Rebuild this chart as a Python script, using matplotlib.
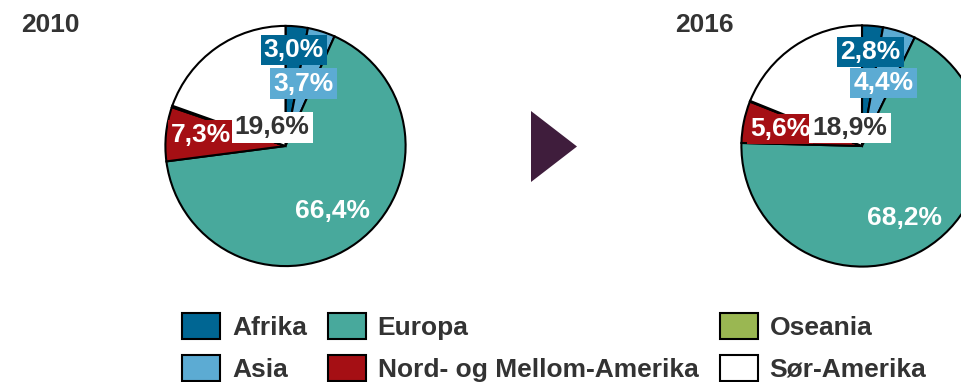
import matplotlib
matplotlib.use("Agg")
import matplotlib.pyplot as plt
from matplotlib.patches import Polygon

plt.rcParams["font.family"] = ["Liberation Sans", "DejaVu Sans"]
plt.rcParams["font.weight"] = "bold"

# Share of total by world region, 2010 vs 2016 (percent)
regions = ["Afrika", "Asia", "Europa", "Nord- og Mellom-Amerika", "Oseania", "Sør-Amerika"]
share_2010 = [3.0, 3.7, 66.4, 7.3, 0.2, 19.6]
share_2016 = [2.8, 4.4, 68.2, 5.6, 0.1, 18.9]
years = ["2010", "2016"]

colors = ["#006693", "#5cabd3", "#48a99c", "#a50f14", "#9ab752", "#ffffff"]
text_dark = "#333333"

# label offsets (pie radius units) and styling per region; Oseania is unlabeled
label_pos = {
    "2010": [(0.07, 0.80), (0.15, 0.52), (0.39, -0.54), (-0.70, 0.09), None, (-0.11, 0.155)],
    "2016": [(0.07, 0.78), (0.18, 0.52), (0.35, -0.60), (-0.68, 0.14), None, (-0.10, 0.15)],
}
label_box = [colors[0], colors[1], None, colors[3], None, "#ffffff"]
label_color = ["white", "white", "white", "white", None, text_dark]

W, H = 962, 382
fig = plt.figure(figsize=(W / 100, H / 100), dpi=100)

pies = [("2010", share_2010, (285.5, 146), 122.5, 21),
        ("2016", share_2016, (862, 146), 123, 675)]

wedges = None
for year, vals, (cx, cy), r, tx in pies:
    ax = fig.add_axes([(cx - r) / W, (H - cy - r) / H, 2 * r / W, 2 * r / H])
    w, _ = ax.pie(vals, colors=colors, startangle=90, counterclock=False, radius=1,
                  wedgeprops=dict(edgecolor="black", linewidth=1.5))
    if wedges is None:
        wedges = w
    ax.set_xlim(-1.02, 1.02)
    ax.set_ylim(-1.02, 1.02)
    ax.set_aspect("equal")
    ax.axis("off")
    for i, v in enumerate(vals):
        pos = label_pos[year][i]
        if pos is None:
            continue
        txt = f"{v:.1f}%".replace(".", ",")
        bbox = None
        if label_box[i] is not None:
            bbox = dict(boxstyle="square,pad=0.12", facecolor=label_box[i], edgecolor="none")
        ax.text(pos[0], pos[1], txt, ha="center", va="center", fontsize=19,
                fontweight="bold", color=label_color[i], bbox=bbox, zorder=5)
    fig.text(tx / W, 1 - 32 / H, year, ha="left", va="baseline", fontsize=19,
             fontweight="bold", color=text_dark)

# arrow between the two years
tri = [(531 / W, 1 - 111 / H), (577 / W, 1 - 146.5 / H), (531 / W, 1 - 182 / H)]
fig.patches.append(Polygon(tri, closed=True, transform=fig.transFigure,
                           facecolor="#3f1d3c", edgecolor="none"))

leg = fig.legend(wedges, regions, ncol=3, loc="upper left",
                 bbox_to_anchor=(182 / W, 1 - 313 / H), frameon=False,
                 fontsize=19, handlelength=1.44, handleheight=1.15,
                 handletextpad=0.45, columnspacing=0.8, labelspacing=0.55,
                 borderaxespad=0, borderpad=0)
for t in leg.get_texts():
    t.set_color(text_dark)
    t.set_fontweight("bold")

fig.savefig("out.png", dpi=100)
